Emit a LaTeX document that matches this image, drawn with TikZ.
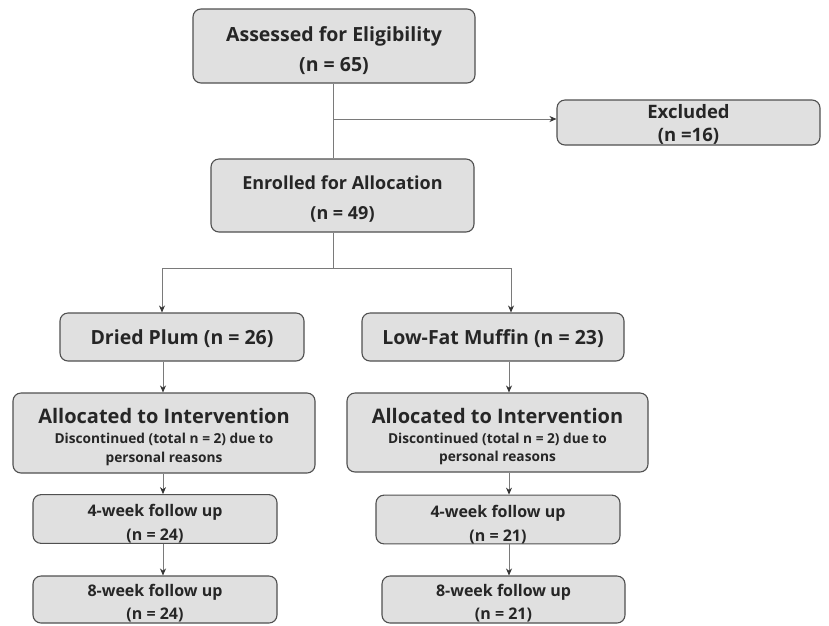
\documentclass[tikz,border=0pt]{standalone}
\usepackage{fontspec}
\setmainfont{Open Sans}
\usetikzlibrary{arrows.meta}
\definecolor{boxfill}{HTML}{E0E0E0}
\definecolor{boxline}{HTML}{505050}
\definecolor{conn}{HTML}{7A7A7A}
\newcommand{\bigln}{\fontsize{20}{23}\selectfont}
\newcommand{\smln}{\fontsize{13.7}{20}\selectfont}
\newcommand{\pushdn}[1]{\rule{0pt}{#1pt}}
\tikzset{
  box/.style={draw=boxline, fill=boxfill, line width=1.1pt, rounded corners=8pt, align=center, inner sep=0pt, font=\bfseries, text=black!85},
  conline/.style={draw=conn, line width=0.8pt},
  arr/.style={conline, -{Stealth[length=7pt,width=6pt,color=black!80]}}
}
\begin{document}
\begin{tikzpicture}[x=1pt,y=1pt]
\useasboundingbox (0,0) rectangle (829,-625);
\node[box, minimum width=282, minimum height=74, font=\bfseries\fontsize{19.5}{30}\selectfont] (assess) at (334,-46) {\pushdn{23.8}Assessed for Eligibility\\(n = 65)};
\node[box, minimum width=263, minimum height=45, font=\bfseries\fontsize{18.5}{23}\selectfont] (excl) at (688.5,-122.5) {\pushdn{18}Excluded\\(n =16)};
\node[box, minimum width=263, minimum height=73, font=\bfseries\fontsize{18}{30}\selectfont] (enrol) at (342.5,-195.5) {\pushdn{21.7}Enrolled for Allocation\\(n = 49)};
\node[box, minimum width=244, minimum height=48, font=\bfseries\fontsize{19.5}{23}\selectfont] (plum) at (182,-337) {\pushdn{18.8}Dried Plum (n = 26)};
\node[box, minimum width=262, minimum height=48, font=\bfseries\fontsize{19.5}{23}\selectfont] (muffin) at (493,-337) {\pushdn{18.8}Low-Fat Muffin (n = 23)};
\node[box, minimum width=302, minimum height=80] (allocL) at (164,-433) {\bigln\pushdn{23.2}Allocated to Intervention\\[8pt]\smln Discontinued (total n = 2) due to\\[5pt]\smln personal reasons};
\node[box, minimum width=301, minimum height=79] (allocR) at (497.5,-432.5) {\bigln\pushdn{23.2}Allocated to Intervention\\[8pt]\smln Discontinued (total n = 2) due to\\[5pt]\smln personal reasons};
\node[box, minimum width=244, minimum height=48, font=\bfseries\fontsize{16}{24}\selectfont] (w4L) at (155,-519) {\pushdn{22.2}4-week follow up\\(n = 24)};
\node[box, minimum width=244, minimum height=47, font=\bfseries\fontsize{16}{23}\selectfont] (w8L) at (155,-599.5) {\pushdn{20.2}8-week follow up\\(n = 24)};
\node[box, minimum width=244, minimum height=47, font=\bfseries\fontsize{16}{24}\selectfont] (w4R) at (498,-519.5) {\pushdn{22.2}4-week follow up\\(n = 21)};
\node[box, minimum width=243, minimum height=47, font=\bfseries\fontsize{16}{23}\selectfont] (w8R) at (503.5,-599.5) {\pushdn{20.2}8-week follow up\\(n = 21)};
% connectors
\coordinate (mainx) at (333,0);
\coordinate (colL) at (163,0);
\coordinate (colR) at (509,0);
\coordinate (splitL) at (162,-268);
\coordinate (splitR) at (511,-268);
\coordinate (exbr) at (333,-119);
\coordinate (spl) at (333,-268);
\draw[conline] (assess.south -| mainx) -- (enrol.north -| mainx);
\draw[arr] (exbr) -- (exbr -| excl.west);
\draw[conline] (enrol.south -| mainx) -- (spl);
\draw[conline] (splitL) -- (splitR);
\draw[arr] (splitL) -- (plum.north -| splitL);
\draw[arr] (splitR) -- (muffin.north -| splitR);
\draw[arr] (plum.south -| colL) -- (allocL.north -| colL);
\draw[arr] (allocL.south -| colL) -- (w4L.north -| colL);
\draw[arr] (w4L.south -| colL) -- (w8L.north -| colL);
\draw[arr] (muffin.south -| colR) -- (allocR.north -| colR);
\draw[arr] (allocR.south -| colR) -- (w4R.north -| colR);
\draw[arr] (w4R.south -| colR) -- (w8R.north -| colR);
\end{tikzpicture}
\end{document}
